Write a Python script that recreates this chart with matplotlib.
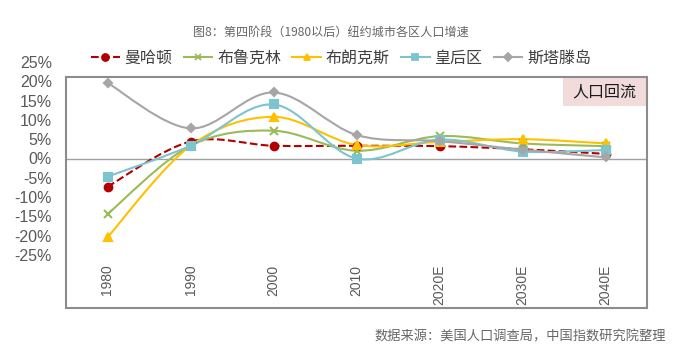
import matplotlib.pyplot as plt
import numpy as np
from matplotlib.path import Path
from matplotlib.patches import PathPatch, Rectangle
from matplotlib.lines import Line2D

# categories and growth rates (%)
years = ["1980", "1990", "2000", "2010", "2020E", "2030E", "2040E"]
manhattan = [-7.3, 4.4, 3.3, 3.3, 3.2, 2.4, 1.2]
brooklyn = [-14.4, 3.3, 7.2, 2.0, 5.8, 3.9, 3.2]
bronx = [-20.4, 3.3, 10.8, 3.5, 4.3, 5.0, 3.9]
queens = [-4.7, 3.3, 14.0, 0.0, 4.9, 1.8, 2.2]
staten = [19.6, 7.8, 17.1, 6.1, 4.5, 2.3, 0.3]

names = ["曼哈顿", "布鲁克林", "布朗克斯", "皇后区", "斯塔滕岛"]
series = [manhattan, brooklyn, bronx, queens, staten]
colors = ["#b00000", "#9bbb59", "#ffc000", "#7cc4d0", "#a6a6a6"]
markers = ["o", "x", "^", "s", "D"]
styles = ["--", "-", "-", "-", "-"]

cjk = ["Noto Sans CJK SC", "DejaVu Sans"]
W, H = 679, 351


def smooth_path(x, y):
    # Excel-style smoothed line: cubic bezier through every point
    pts = np.column_stack([x, y]).astype(float)
    n = len(pts)
    verts = [pts[0]]
    codes = [Path.MOVETO]
    for i in range(n - 1):
        p_prev = pts[i - 1] if i > 0 else pts[i]
        p_next2 = pts[i + 2] if i + 2 < n else pts[i + 1]
        c1 = pts[i] + (pts[i + 1] - p_prev) / 6
        c2 = pts[i + 1] - (p_next2 - pts[i]) / 6
        verts += [c1, c2, pts[i + 1]]
        codes += [Path.CURVE4] * 3
    return Path(verts, codes)


fig = plt.figure(figsize=(W / 100, H / 100), dpi=100)
ax = fig.add_axes([66 / W, 1 - 255 / H, 581 / W, (255 - 62) / H])

x = np.arange(len(years))
ax.axhline(0, color="#a0a0a0", lw=1, zorder=1)

handles = []
for vals, name, c, m, ls in zip(series, names, colors, markers, styles):
    patch = PathPatch(smooth_path(x, vals), facecolor="none", edgecolor=c,
                      lw=1.5, ls=ls, zorder=2)
    ax.add_patch(patch)
    ms = 5.5 if m != "D" else 4.5
    ax.plot(x, vals, ls="none", marker=m, color=c, ms=ms, mew=1.5, zorder=3)
    handles.append(Line2D([], [], color=c, ls=ls, lw=1.5, marker=m, ms=ms - 0.5,
                          mew=1.3, label=name))

ax.set_xlim(-0.5, 6.5)
ax.set_ylim(-25, 25)
ax.set_yticks(np.arange(-25, 26, 5))
ax.set_yticklabels([f"{v}%" for v in range(-25, 26, 5)], fontsize=11.5,
                   color="#595959", family="Liberation Sans")
ax.set_xticks(x)
ax.set_xticklabels(years, rotation=90, fontsize=10, color="#595959", family="Liberation Sans")
ax.tick_params(axis="y", length=0, pad=10)
ax.tick_params(axis="x", length=0, pad=7)
for s in ax.spines.values():
    s.set_visible(False)
ax.patch.set_visible(False)

# outer frame around plot area
fig.patches.append(Rectangle((66 / W, 1 - 308 / H), 581 / W, (308 - 77) / H,
                             transform=fig.transFigure, fill=False,
                             edgecolor="#8c8c8c", lw=1.5))

# "人口回流" tag
fig.patches.append(Rectangle((563 / W, 1 - 106 / H), 83 / W, 28 / H,
                             transform=fig.transFigure, facecolor="#f2dcdb",
                             edgecolor="none", zorder=0))
fig.text(604.5 / W, 1 - 92 / H, "人口回流", ha="center", va="center",
         fontsize=11.5, family=cjk, color="#1a1a1a")

fig.legend(handles=handles, loc="center", bbox_to_anchor=(341 / W, 1 - 58 / H),
           ncol=5, frameon=False, prop={"family": cjk, "size": 11.5},
           handlelength=1.8, handletextpad=0.3, columnspacing=0.7,
           labelcolor="#404040")

fig.text(331 / W, 1 - 32 / H, "图8：第四阶段（1980以后）纽约城市各区人口增速",
         ha="center", va="center", fontsize=8.7, family=cjk, color="#666666")
fig.text(666 / W, 1 - 337 / H, "数据来源：美国人口调查局，中国指数研究院整理",
         ha="right", va="center", fontsize=9.5, family=cjk, color="#666666")

fig.savefig("out.png", dpi=100)
